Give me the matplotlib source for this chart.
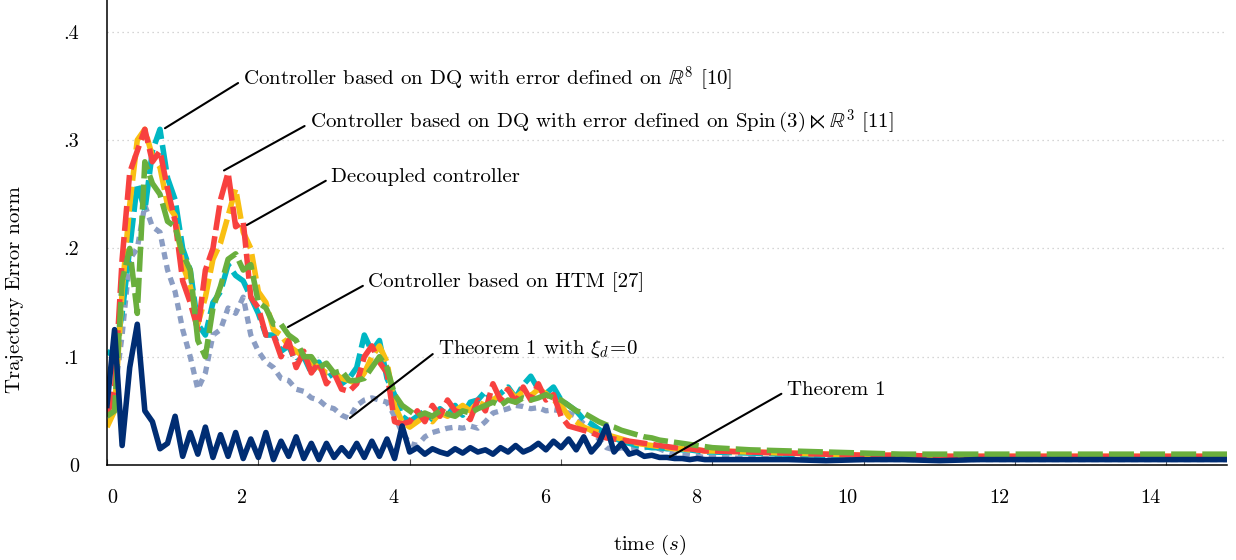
import numpy as np
import matplotlib
matplotlib.use("Agg")
import matplotlib.pyplot as plt
import matplotlib.transforms as mtransforms

plt.rcParams['font.family'] = ['cmr10', 'DejaVu Serif']
plt.rcParams['mathtext.fontset'] = 'cm'
plt.rcParams['axes.unicode_minus'] = False

# time samples: every 0.1 s up to 8 s, then every 0.5 s
t = np.concatenate([np.arange(0, 81) / 10.0, np.arange(17, 31) / 2.0])

# Theorem 1
theorem1 = [0.055, 0.125, 0.018, 0.09, 0.13, 0.05, 0.04, 0.015, 0.02, 0.045,
            0.008, 0.03, 0.01, 0.035, 0.007, 0.028, 0.008, 0.03, 0.006, 0.024,
            0.007, 0.03, 0.005, 0.022, 0.008, 0.026, 0.006, 0.02, 0.005, 0.02,
            0.007, 0.016, 0.008, 0.02, 0.007, 0.022, 0.008, 0.024, 0.006, 0.036,
            0.012, 0.016, 0.01, 0.015, 0.012, 0.01, 0.015, 0.011, 0.016, 0.012,
            0.014, 0.01, 0.016, 0.012, 0.018, 0.012, 0.015, 0.02, 0.014, 0.022,
            0.016, 0.024, 0.014, 0.026, 0.012, 0.02, 0.036, 0.012, 0.02, 0.01,
            0.012, 0.008, 0.009, 0.007, 0.007, 0.006, 0.006, 0.005, 0.006, 0.005,
            0.005,
            0.005, 0.005, 0.004, 0.005, 0.005, 0.004, 0.005, 0.005, 0.005, 0.005,
            0.005, 0.005, 0.005, 0.005]

# Theorem 1 with xi_d = 0
theorem1_xi0 = [0.05, 0.065, 0.12, 0.19, 0.2, 0.24, 0.22, 0.215, 0.18, 0.16,
                0.125, 0.1, 0.07, 0.085, 0.12, 0.125, 0.145, 0.14, 0.155, 0.12,
                0.105, 0.095, 0.09, 0.08, 0.078, 0.07, 0.068, 0.062, 0.06, 0.054,
                0.052, 0.046, 0.043, 0.055, 0.06, 0.062, 0.06, 0.058, 0.045, 0.03,
                0.02, 0.018, 0.026, 0.03, 0.032, 0.034, 0.035, 0.034, 0.036, 0.034,
                0.04, 0.048, 0.05, 0.052, 0.055, 0.054, 0.052, 0.053, 0.05, 0.051,
                0.05, 0.048, 0.045, 0.038, 0.032, 0.024, 0.016, 0.014, 0.016, 0.014,
                0.015, 0.016, 0.017, 0.015, 0.012, 0.01, 0.009, 0.009, 0.008, 0.007,
                0.007,
                0.006, 0.006, 0.006, 0.005, 0.005, 0.005, 0.005, 0.005, 0.005, 0.005,
                0.005, 0.005, 0.005, 0.005]

# Controller based on DQ with error defined on R^8 [10]
dq_r8 = [0.105, 0.1, 0.14, 0.2, 0.26, 0.235, 0.29, 0.31, 0.265, 0.245,
         0.2, 0.18, 0.13, 0.12, 0.15, 0.16, 0.185, 0.175, 0.17, 0.155,
         0.14, 0.12, 0.12, 0.105, 0.11, 0.095, 0.1, 0.085, 0.095, 0.08,
         0.085, 0.075, 0.08, 0.09, 0.12, 0.105, 0.115, 0.08, 0.065, 0.045,
         0.04, 0.045, 0.05, 0.042, 0.052, 0.046, 0.055, 0.046, 0.058, 0.06,
         0.068, 0.058, 0.066, 0.072, 0.062, 0.074, 0.082, 0.07, 0.066, 0.072,
         0.06, 0.055, 0.05, 0.042, 0.038, 0.033, 0.028, 0.025, 0.022, 0.02,
         0.018, 0.017, 0.016, 0.016, 0.015, 0.015, 0.014, 0.014, 0.013, 0.012,
         0.012,
         0.011, 0.01, 0.009, 0.008, 0.008, 0.007, 0.007, 0.007, 0.007, 0.007,
         0.007, 0.007, 0.007, 0.007]

# Controller based on DQ with error defined on Spin(3) x R^3 [11]
dq_spin = [0.045, 0.07, 0.19, 0.27, 0.29, 0.31, 0.28, 0.29, 0.255, 0.225,
           0.17, 0.15, 0.125, 0.18, 0.2, 0.245, 0.27, 0.22, 0.225, 0.155,
           0.145, 0.12, 0.12, 0.1, 0.115, 0.09, 0.105, 0.085, 0.095, 0.075,
           0.085, 0.07, 0.068, 0.075, 0.1, 0.11, 0.095, 0.085, 0.04, 0.038,
           0.04, 0.05, 0.04, 0.055, 0.045, 0.06, 0.05, 0.048, 0.042, 0.06,
           0.05, 0.075, 0.06, 0.07, 0.058, 0.072, 0.06, 0.075, 0.06, 0.065,
           0.045, 0.036, 0.034, 0.032, 0.03, 0.027, 0.025, 0.024, 0.023, 0.022,
           0.021, 0.02, 0.019, 0.018, 0.017, 0.016, 0.015, 0.015, 0.014, 0.013,
           0.013,
           0.012, 0.011, 0.01, 0.009, 0.009, 0.008, 0.008, 0.008, 0.008, 0.008,
           0.008, 0.008, 0.008, 0.008]

# Decoupled controller
decoupled = [0.035, 0.05, 0.16, 0.24, 0.3, 0.31, 0.285, 0.275, 0.24, 0.23,
             0.185, 0.165, 0.13, 0.155, 0.19, 0.205, 0.23, 0.255, 0.215, 0.2,
             0.16, 0.15, 0.125, 0.12, 0.11, 0.105, 0.1, 0.095, 0.09, 0.085,
             0.085, 0.08, 0.078, 0.075, 0.085, 0.1, 0.11, 0.095, 0.055, 0.04,
             0.035, 0.04, 0.045, 0.04, 0.048, 0.045, 0.05, 0.055, 0.05, 0.058,
             0.055, 0.06, 0.065, 0.07, 0.062, 0.068, 0.064, 0.07, 0.066, 0.06,
             0.055, 0.045, 0.04, 0.035, 0.032, 0.03, 0.028, 0.026, 0.024, 0.022,
             0.02, 0.019, 0.018, 0.017, 0.016, 0.015, 0.015, 0.014, 0.014, 0.013,
             0.013,
             0.012, 0.011, 0.01, 0.009, 0.009, 0.008, 0.008, 0.008, 0.008, 0.008,
             0.008, 0.008, 0.008, 0.008]

# Controller based on HTM [27]
htm = [0.045, 0.05, 0.17, 0.2, 0.14, 0.28, 0.26, 0.25, 0.225, 0.22,
       0.195, 0.18, 0.115, 0.1, 0.145, 0.165, 0.19, 0.195, 0.18, 0.185,
       0.15, 0.145, 0.13, 0.13, 0.12, 0.115, 0.1, 0.1, 0.09, 0.094,
       0.085, 0.087, 0.078, 0.078, 0.08, 0.09, 0.1, 0.09, 0.065, 0.055,
       0.05, 0.045, 0.048, 0.045, 0.05, 0.047, 0.045, 0.05, 0.048, 0.052,
       0.055, 0.058, 0.055, 0.06, 0.058, 0.062, 0.06, 0.062, 0.065, 0.062,
       0.06, 0.055, 0.05, 0.048, 0.044, 0.04, 0.037, 0.035, 0.032, 0.03,
       0.028, 0.026, 0.025, 0.023, 0.022, 0.021, 0.02, 0.019, 0.018, 0.017,
       0.016,
       0.014, 0.013, 0.012, 0.011, 0.01, 0.01, 0.01, 0.01, 0.01, 0.01,
       0.01, 0.01, 0.01, 0.01]

x_ticks = [0, 2, 4, 6, 8, 10, 12, 14]
y_ticks = [0, 0.1, 0.2, 0.3, 0.4]
y_tick_labels = ['0', '.1', '.2', '.3', '.4']

fig = plt.figure(figsize=(12.36, 5.6), dpi=100)
ax = fig.add_axes([107 / 1236, 95 / 560, 1120 / 1236, 465 / 560])

c_red = '#f8413f'
c_yellow = '#f9bf12'
c_cyan = '#00b7c3'
c_green = '#6aaf3d'
c_gray = '#8b9dc3'
c_navy = '#002d73'

ax.plot(t, theorem1_xi0, color=c_gray, lw=3.8, dashes=(1.4, 1.1))
ax.plot(t, dq_r8, color=c_cyan, lw=4.0, dashes=(4.5, 1.1))
ax.plot(t, decoupled, color=c_yellow, lw=4.0, dashes=(4.5, 1.1))
ax.plot(t, dq_spin, color=c_red, lw=4.0, dashes=(4.5, 1.1))
ax.plot(t, htm, color=c_green, lw=4.0, dashes=(4.5, 1.1))
ax.plot(t, theorem1, color=c_navy, lw=4.0)

ax.set_xlim(0, 14.8)
ax.set_ylim(0, 0.4294)

for side in ['top', 'right']:
    ax.spines[side].set_visible(False)
for side in ['left', 'bottom']:
    ax.spines[side].set_linewidth(1.1)

fs = 15

ax.set_yticks(y_ticks)
ax.set_yticklabels(y_tick_labels)
ax.tick_params(axis='y', length=0, pad=20, labelsize=fs - 0.5)
ax.set_xticks(x_ticks)
ax.set_xticklabels([str(v) for v in x_ticks])
ax.tick_params(axis='x', direction='in', length=4, width=0.8, color='#555555',
               pad=17, labelsize=fs - 0.5)

# the x tick labels sit a little to the left of their ticks
for i, lab in enumerate(ax.get_xticklabels()):
    dx = 5 if i == 0 else -16
    lab.set_transform(lab.get_transform() +
                      mtransforms.ScaledTranslation(dx / 100, 0, fig.dpi_scale_trans))

ax.grid(axis='y', color='#c8c8c8', linestyle=(0, (1, 3)), linewidth=0.9)
ax.set_axisbelow(True)

arrow = dict(arrowstyle='-', color='black', lw=1.5, shrinkA=2, shrinkB=0,
             relpos=(0, 0.45))
notes = [
    (r'Controller based on DQ with error defined on $\mathbb{R}^8$ [10]', (0.766, 0.311), (1.80, 0.357)),
    (r'Controller based on DQ with error defined on Spin$\,(3) \ltimes \mathbb{R}^3$ [11]', (1.546, 0.272), (2.68, 0.317)),
    ('Decoupled controller', (1.849, 0.2216), (2.96, 0.266)),
    ('Controller based on HTM [27]', (2.391, 0.1274), (3.45, 0.169)),
    (r'Theorem 1 with $\xi_d\!=\!0$', (3.21, 0.0434), (4.37, 0.107)),
    ('Theorem 1', (7.437, 0.0074), (8.98, 0.0693)),
]
for text, xy, xyt in notes:
    ax.annotate(text, xy=xy, xytext=xyt, ha='left', va='center', fontsize=fs,
                arrowprops=arrow)

fig.text(15 / 1236, 1 - 290 / 560, 'Trajectory Error norm', rotation=90,
         ha='center', va='center', fontsize=fs)
fig.text(650 / 1236, 1 - 545 / 560, r'time ($s$)', ha='center', va='center',
         fontsize=fs)

plt.savefig('out.png', dpi=100)
